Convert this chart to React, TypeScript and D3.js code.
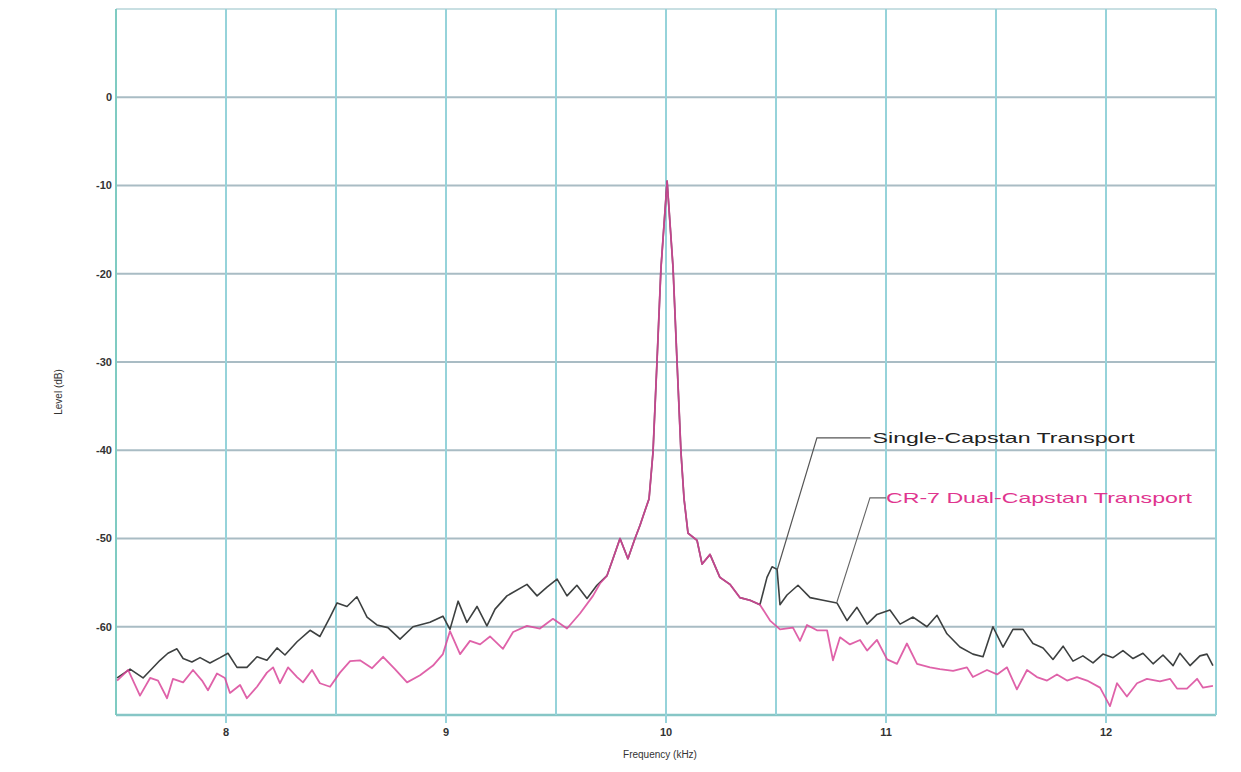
import React from "react";
import * as d3 from "d3";

const FREQ_TICKS = [8, 9, 10, 11, 12];
const LEVEL_TICKS = [0, -10, -20, -30, -40, -50, -60];
const X_LABEL = "Frequency (kHz)";
const Y_LABEL = "Level (dB)";
const SINGLE_NAME = "Single-Capstan Transport";
const DUAL_NAME = "CR-7 Dual-Capstan Transport";

const singleFreq = [
  7.505, 7.564, 7.623, 7.7, 7.736, 7.777, 7.805, 7.845, 7.882, 7.927, 7.973, 8.009, 8.05, 8.095, 8.141, 8.186,
  8.232, 8.268, 8.323, 8.382, 8.427, 8.473, 8.505, 8.55, 8.595, 8.641, 8.686, 8.736, 8.791, 8.85, 8.927, 8.986,
  9.018, 9.055, 9.095, 9.141, 9.186, 9.223, 9.277, 9.368, 9.414, 9.459, 9.505, 9.55, 9.595, 9.641, 9.686, 9.732,
  9.759, 9.791, 9.827, 9.859, 9.882, 9.905, 9.923, 9.941, 9.959, 9.977, 10.005, 10.032, 10.05, 10.068, 10.082,
  10.1, 10.141, 10.164, 10.2, 10.245, 10.291, 10.336, 10.382, 10.427, 10.459, 10.482, 10.505, 10.518, 10.55,
  10.6, 10.655, 10.714, 10.777, 10.823, 10.868, 10.914, 10.959, 11.018, 11.064, 11.123, 11.186, 11.232, 11.277,
  11.336, 11.395, 11.441, 11.486, 11.532, 11.577, 11.623, 11.668, 11.714, 11.759, 11.805, 11.85, 11.895, 11.941,
  11.986, 12.032, 12.077, 12.123, 12.168, 12.214, 12.259, 12.305, 12.336, 12.382, 12.427, 12.459, 12.486,
];
const singleLevel = [
  -65.8, -64.8, -65.8, -63.8, -63.0, -62.5, -63.6, -64.0, -63.5, -64.1, -63.5, -63.0, -64.6, -64.6, -63.4, -63.8,
  -62.4, -63.2, -61.7, -60.4, -61.1, -58.9, -57.3, -57.7, -56.6, -58.9, -59.8, -60.1, -61.4, -60.0, -59.5, -58.8,
  -60.3, -57.1, -59.5, -57.7, -59.9, -58.0, -56.5, -55.2, -56.5, -55.5, -54.6, -56.5, -55.3, -56.8, -55.3, -54.2,
  -52.3, -50.0, -52.3, -50.0, -48.5, -46.8, -45.5, -40.2, -30.0, -19.4, -9.5, -19.3, -29.9, -40.2, -45.5,
  -49.4, -50.2, -52.9, -51.8, -54.4, -55.2, -56.7, -57.0, -57.5, -54.4, -53.2, -53.5, -57.5, -56.4,
  -55.3, -56.7, -57.0, -57.3, -59.3, -57.8, -59.7, -58.6, -58.1, -59.7, -58.9, -60.0, -58.7, -60.8,
  -62.3, -63.1, -63.4, -60.0, -62.3, -60.3, -60.3, -61.9, -62.4, -63.7, -62.2, -63.9, -63.3, -64.1,
  -63.1, -63.5, -62.7, -63.6, -63.0, -64.2, -63.2, -64.4, -63.0, -64.4, -63.3, -63.1, -64.4,
];

const dualFreq = [
  7.505, 7.555, 7.609, 7.655, 7.691, 7.732, 7.759, 7.805, 7.85, 7.891, 7.918, 7.959, 7.995, 8.018, 8.064, 8.095,
  8.141, 8.186, 8.214, 8.245, 8.282, 8.323, 8.35, 8.391, 8.427, 8.473, 8.518, 8.564, 8.609, 8.664, 8.714, 8.768,
  8.823, 8.882, 8.941, 8.986, 9.018, 9.064, 9.109, 9.155, 9.2, 9.259, 9.305, 9.368, 9.427, 9.486, 9.55, 9.609,
  9.668, 9.7, 9.732, 9.759, 9.791, 9.827, 9.859, 9.882, 9.905, 9.923, 9.941, 9.959, 9.977, 10.005, 10.032, 10.05,
  10.068, 10.082, 10.1, 10.141, 10.164, 10.2, 10.245, 10.291, 10.336, 10.382, 10.427, 10.473, 10.518, 10.577,
  10.609, 10.641, 10.686, 10.732, 10.759, 10.791, 10.836, 10.882, 10.914, 10.959, 11.005, 11.05, 11.095, 11.141,
  11.2, 11.245, 11.305, 11.368, 11.395, 11.459, 11.505, 11.55, 11.595, 11.641, 11.686, 11.732, 11.777, 11.823,
  11.868, 11.914, 11.973, 12.018, 12.05, 12.095, 12.141, 12.186, 12.245, 12.291, 12.323, 12.368, 12.414, 12.441,
  12.486,
];
const dualLevel = [
  -66.1, -64.9, -67.8, -65.8, -66.1, -68.1, -65.9, -66.3, -64.9, -66.1, -67.2, -65.3, -65.8, -67.5, -66.6, -68.1,
  -66.8, -65.2, -64.6, -66.4, -64.6, -65.7, -66.3, -64.9, -66.4, -66.8, -65.2, -63.9, -63.8, -64.7, -63.4, -64.8,
  -66.3, -65.5, -64.4, -63.1, -60.5, -63.1, -61.6, -62.0, -61.1, -62.5, -60.6, -59.9, -60.2, -59.1, -60.2, -58.5,
  -56.5, -55.1, -54.2, -52.3, -50.0, -52.3, -50.0, -48.5, -46.8, -45.5, -40.2, -30.0, -19.4, -9.5, -19.3, -29.9,
  -40.2, -45.5, -49.4, -50.2, -52.9, -51.8, -54.4, -55.2, -56.7, -57.0, -57.5, -59.3, -60.3, -60.1,
  -61.6, -59.8, -60.4, -60.4, -63.8, -61.2, -62.0, -61.5, -62.7, -61.5, -63.7, -64.2, -61.9, -64.2,
  -64.6, -64.8, -65.0, -64.6, -65.7, -64.9, -65.4, -64.6, -67.1, -64.9, -65.7, -66.1, -65.4, -66.1,
  -65.7, -66.1, -66.9, -69.0, -66.4, -67.9, -66.4, -65.9, -66.2, -65.9, -67.0, -67.0, -65.9, -66.9,
  -66.7,
];

// annotation leader points in data units: [anchor on curve, elbow, text start]
const singleLeader = [[10.505, -53.6], [10.686, -38.6], [10.93, -38.6]];
const dualLeader = [[10.777, -57.2], [10.927, -45.4], [11.0, -45.4]];

const W = 1241;
const H = 772;
const M = { left: 116, right: 1216, top: 9, bottom: 715 };

export default function App() {
  const x = d3.scaleLinear().domain([7.5, 12.5]).range([M.left, M.right]);
  const y = d3.scaleLinear().domain([-70, 10]).range([M.bottom, M.top]);
  const line = d3
    .line<[number, number]>()
    .x((d) => x(d[0]))
    .y((d) => y(d[1]))
    .curve(d3.curveLinear);

  const single = singleFreq.map((f, i) => [f, singleLevel[i]] as [number, number]);
  const dual = dualFreq.map((f, i) => [f, dualLevel[i]] as [number, number]);
  const vGrid = d3.range(7.5, 12.51, 0.5);
  const hGrid = d3.range(-70, 10.01, 10);
  const font = "'Liberation Sans', Arial, sans-serif";
  const leaderLine = d3
    .line<number[]>()
    .x((d) => x(d[0]))
    .y((d) => y(d[1]));

  return (
    <svg
      width={W}
      height={H}
      style={{ position: "absolute", left: 0, top: 0, background: "#fff" }}
    >
      <rect x={0} y={0} width={W} height={H} fill="#ffffff" />
      {hGrid.map((v) => (
        <line
          key={"h" + v}
          x1={x(7.5)}
          x2={x(12.5)}
          y1={y(v)}
          y2={y(v)}
          stroke={v === -70 ? "#86c6c6" : v === 10 ? "#c8dfe2" : "#a9bcc4"}
          strokeWidth={v === -70 ? 2.5 : 2}
        />
      ))}
      {vGrid.map((f) => (
        <line
          key={"v" + f}
          x1={x(f)}
          x2={x(f)}
          y1={y(10)}
          y2={y(-70) + (Number.isInteger(f) ? 8 : 0)}
          stroke={f === 7.5 ? "#7fcbc2" : "#96d3da"}
          strokeWidth={2}
        />
      ))}
      {LEVEL_TICKS.map((v) => (
        <text
          key={"yl" + v}
          x={x(7.5) - 4}
          y={y(v)}
          dy="0.35em"
          textAnchor="end"
          fontFamily={font}
          fontSize={11}
          fontWeight={600}
          fill="#333"
        >
          {v}
        </text>
      ))}
      {FREQ_TICKS.map((f) => (
        <text
          key={"xl" + f}
          x={x(f)}
          y={y(-70) + 17}
          dy="0.35em"
          textAnchor="middle"
          fontFamily={font}
          fontSize={11}
          fontWeight={600}
          fill="#333"
        >
          {f}
        </text>
      ))}
      <text
        x={x(10) - 6}
        y={758}
        textAnchor="middle"
        fontFamily={font}
        fontSize={10}
        fill="#333"
      >
        {X_LABEL}
      </text>
      <text
        transform={`translate(62, ${y(-30) + 30}) rotate(-90)`}
        textAnchor="middle"
        fontFamily={font}
        fontSize={10}
        fill="#333"
      >
        {Y_LABEL}
      </text>
      <path d={line(single) || ""} fill="none" stroke="#3d4040" strokeWidth={1.6} strokeLinejoin="round" />
      <path d={line(dual) || ""} fill="none" stroke="#d9479a" strokeWidth={1.8} strokeOpacity={0.85} strokeLinejoin="round" />
      <path d={leaderLine(singleLeader) || ""} fill="none" stroke="#555" strokeWidth={1.2} />
      <path d={leaderLine(dualLeader) || ""} fill="none" stroke="#666" strokeWidth={1.1} />
      <text
        x={x(singleLeader[2][0]) + 2}
        y={y(singleLeader[2][1])}
        dy="0.35em"
        fontFamily={font}
        fontSize={15}
        textLength={262}
        lengthAdjust="spacingAndGlyphs"
        fill="#222"
      >
        {SINGLE_NAME}
      </text>
      <text
        x={x(dualLeader[2][0])}
        y={y(dualLeader[2][1])}
        dy="0.35em"
        fontFamily={font}
        fontSize={15}
        textLength={306}
        lengthAdjust="spacingAndGlyphs"
        fill="#e0358f"
      >
        {DUAL_NAME}
      </text>
    </svg>
  );
}
